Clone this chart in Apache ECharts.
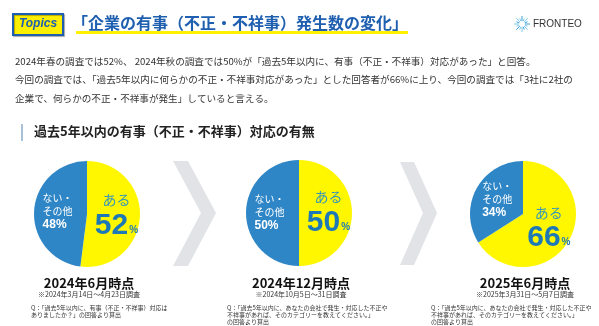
<!DOCTYPE html>
<html>
<head>
<meta charset="utf-8">
<script src="https://cdn.jsdelivr.net/npm/echarts@6/dist/echarts.min.js"></script>
<style>
  html, body { margin: 0; padding: 0; background: #fff; }
  #chart { width: 599px; height: 326px; }
</style>
</head>
<body>
<div id="chart"></div>
<script>
// survey periods and answers
const periods = ['2024年6月時点', '2024年12月時点', '2025年6月時点']
const surveyDates = ['※2024年3月14日～4月23日調査', '※2024年10月5日～31日調査', '※2025年3月31日～5月7日調査']
const questions = [
    ['Q：「過去5年以内に、有事（不正・不祥事）対応は', 'ありましたか？」の回答より算出'],
    ['Q：「過去5年以内に、あなたの会社で発生・対応した不正や', '不祥事があれば、そのカテゴリーを教えてください。」', 'の回答より算出'],
    ['Q：「過去5年以内に、あなたの会社で発生・対応した不正や', '不祥事があれば、そのカテゴリーを教えてください。」', 'の回答より算出']
]
const yesValues = [52, 50, 66]
const otherValues = [48, 50, 34]

const pieCenters = [[87, 214], [299, 213], [523, 214]]
const questionLeft = [31, 227, 431]
const JP = '"Noto Sans CJK JP", sans-serif'
const BLUE = '#2f86c6'
const YELLOW = '#fff700'

const chart = echarts.init(document.getElementById('chart'), null, { renderer: 'canvas' })

const series = periods.map((p, i) => ({
    type: 'pie',
    center: pieCenters[i],
    radius: [0, 53],
    startAngle: 90,
    clockwise: true,
    silent: true,
    animation: false,
    labelLine: { show: false },
    data: [
        {
            value: yesValues[i],
            itemStyle: { color: YELLOW },
            label: {
                show: true,
                position: 'inside',
                formatter: '{a|ある}\n{n|' + yesValues[i] + '}{p|%}',
                rich: {
                    a: { fontFamily: JP, fontSize: 14, color: '#3596b8', lineHeight: 20 },
                    n: { fontFamily: '"Liberation Sans", Arial', fontWeight: 'bold', fontSize: 30, color: '#1c78b6', lineHeight: 32 },
                    p: { fontFamily: '"Liberation Sans", Arial', fontWeight: 'bold', fontSize: 10, color: '#1c78b6', lineHeight: 24, padding: [8, 0, 0, 1] }
                }
            }
        },
        {
            value: otherValues[i],
            itemStyle: { color: BLUE },
            label: {
                show: true,
                position: 'inside',
                formatter: '{w|ない・}\n{w|その他}\n{b|' + otherValues[i] + '%}',
                rich: {
                    w: { fontFamily: JP, fontSize: 10, color: '#fff', lineHeight: 13, align: 'left' },
                    b: { fontFamily: '"Liberation Sans", Arial', fontWeight: 'bold', fontSize: 12, color: '#fff', lineHeight: 15, align: 'left' }
                }
            }
        }
    ]
}))

const texts = []
periods.forEach((p, i) => {
    const cx = pieCenters[i][0] + 2
    texts.push({
        type: 'text', x: cx, y: 277,
        style: { text: p, font: 'bold 13px ' + JP, fill: '#111', textAlign: 'center' }
    })
    texts.push({
        type: 'text', x: cx, y: 291,
        style: { text: surveyDates[i], font: '7px ' + JP, fill: '#333', textAlign: 'center' }
    })
    texts.push({
        type: 'text', x: questionLeft[i], y: 304,
        style: { text: questions[i].join('\n'), font: '6px ' + JP, fill: '#333', lineHeight: 7 }
    })
})

// sunburst mark of the logo
const rays = []
for (let k = 0; k < 16; k++) {
    const a = k * Math.PI / 8
    const r1 = 3, r2 = k % 2 ? 6 : 8
    rays.push({
        type: 'line',
        shape: { x1: 522 + r1 * Math.cos(a), y1: 24 + r1 * Math.sin(a), x2: 522 + r2 * Math.cos(a), y2: 24 + r2 * Math.sin(a) },
        style: { stroke: k % 3 ? '#7cc8e8' : '#3a9fd8', lineWidth: 1 }
    })
}

chart.setOption({
    backgroundColor: '#fff',
    animation: false,
    graphic: [
        // header
        { type: 'rect', shape: { x: 13, y: 14, width: 50, height: 21 }, style: { fill: '#fff000', stroke: '#1f5fb0', lineWidth: 2, shadowColor: 'rgba(0,0,0,0.3)', shadowOffsetX: 1, shadowOffsetY: 1, shadowBlur: 1 } },
        { type: 'text', x: 38, y: 18, style: { text: 'Topics', font: 'italic bold 12px "Liberation Sans", Arial', fill: '#1f5fb0', textAlign: 'center' } },
        { type: 'rect', shape: { x: 76, y: 31, width: 332, height: 3 }, style: { fill: '#fff100' } },
        { type: 'text', x: 72, y: 15, style: { text: '「企業の有事（不正・不祥事）発生数の変化」', font: 'bold 16px ' + JP, fill: '#1f5fb0' } },
        ...rays,
        { type: 'text', x: 533, y: 19, style: { text: 'FRONTEO', font: '10px "Liberation Sans", Arial', fill: '#333' } },
        // description
        { type: 'text', x: 15, y: 52, style: {
            text: '2024年春の調査では52%、 2024年秋の調査では50%が「過去5年以内に、有事（不正・不祥事）対応があった」と回答。\n今回の調査では、「過去5年以内に何らかの不正・不祥事対応があった」とした回答者が66%に上り、今回の調査では「3社に2社の\n企業で、何らかの不正・不祥事が発生」していると言える。',
            font: '9.6px ' + JP, fill: '#333', lineHeight: 18.5 } },
        // section heading
        { type: 'rect', shape: { x: 21, y: 124, width: 2, height: 17 }, style: { fill: '#a9c1d6' } },
        { type: 'text', x: 34, y: 125, style: { text: '過去5年以内の有事（不正・不祥事）対応の有無', font: 'bold 13px ' + JP, fill: '#222' } },
        // chevrons
        { type: 'polygon', shape: { points: [[173, 161], [188, 161], [216, 213], [188, 266], [173, 266], [201, 213]] }, style: { fill: '#e1e3e7' } },
        { type: 'polygon', shape: { points: [[400, 162], [414, 162], [437, 213], [414, 265], [400, 265], [423, 213]] }, style: { fill: '#e1e3e7' } },
        ...texts
    ],
    series
})
</script>
</body>
</html>
